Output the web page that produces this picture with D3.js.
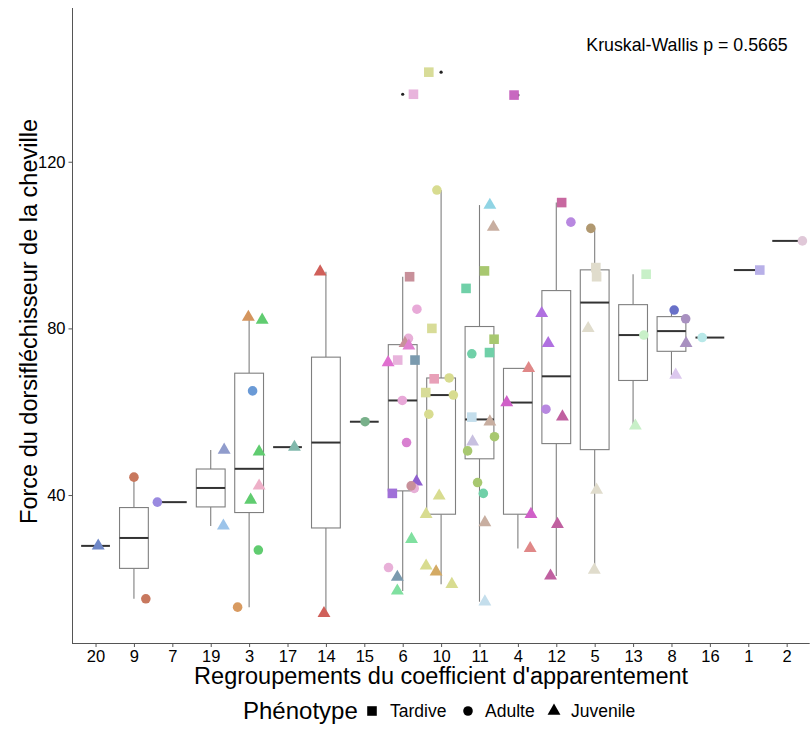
<!DOCTYPE html>
<html>
<head>
<meta charset="utf-8">
<script src="https://cdn.jsdelivr.net/npm/d3@7"></script>
<style>
  html, body { margin: 0; padding: 0; background: #fff; }
  svg { display: block; font-family: "Liberation Sans", Arial, sans-serif; }
</style>
</head>
<body>
<div id="chart"></div>
<script>
// ---------------- DATA ----------------
const categories = ["20","9","7","19","3","17","14","15","6","10","11","4","12","5","13","8","16","1","2"];
const yTicks = [40, 80, 120];
const phenotypes = ["Tardive", "Adulte", "Juvenile"];
const pValueLabel = "Kruskal-Wallis p = 0.5665";

// one entry per animal: group, force value, phenotype, horizontal jitter (fraction of a band), colour of the individual
const pointGroup = [
  "20",
  "9","9",
  "7",
  "19","19",
  "3","3","3","3","3","3","3","3",
  "17",
  "14","14",
  "15",
  "6","6","6","6","6","6","6","6","6","6","6","6","6","6","6","6","6","6","6",
  "10","10","10","10","10","10","10","10","10","10","10","10","10",
  "11","11","11","11","11","11","11","11","11","11","11","11","11","11","11","11",
  "4","4","4","4","4",
  "12","12","12","12","12","12","12","12",
  "5","5","5","5","5","5",
  "13","13","13",
  "8","8","8","8",
  "16",
  "1",
  "2"
];
const pointValue = [
  27.8,
  44.3, 15.1,
  38.3,
  50.8, 32.6,
  82.7, 82.0, 65.0, 50.4, 42.2, 38.8, 26.8, 13.1,
  51.5,
  93.6, 11.6,
  57.6,
  136.2, 92.4, 84.6, 77.6, 76.4, 75.8, 71.8, 72.4, 72.4, 62.7, 52.6, 43.2, 41.6, 42.2, 40.4, 29.4, 22.6, 20.3, 17.0,
  141.5, 113.2, 80.0, 67.9, 68.1, 64.6, 64.0, 59.4, 39.8, 35.4, 23.0, 21.6, 18.6,
  109.6, 104.3, 93.8, 89.6, 77.4, 73.9, 74.2, 58.7, 57.6, 52.8, 54.0, 50.6, 43.0, 40.4, 33.4, 14.4,
  136.0, 70.4, 62.2, 35.4, 27.2,
  110.2, 105.5, 83.6, 76.4, 60.6, 58.8, 33.0, 20.6,
  104.0, 94.6, 92.4, 80.0, 41.2, 22.0,
  93.0, 78.4, 56.6,
  84.4, 82.3, 76.4, 68.8,
  77.8,
  94.0,
  101.0
];
const pointPhenotype = [
  "Juvenile",
  "Adulte","Adulte",
  "Adulte",
  "Juvenile","Juvenile",
  "Juvenile","Juvenile","Adulte","Juvenile","Juvenile","Juvenile","Adulte","Adulte",
  "Juvenile",
  "Juvenile","Juvenile",
  "Adulte",
  "Tardive","Tardive","Adulte","Adulte","Juvenile","Juvenile","Juvenile","Tardive","Tardive","Adulte","Adulte","Juvenile","Adulte","Adulte","Tardive","Juvenile","Adulte","Juvenile","Juvenile",
  "Tardive","Adulte","Tardive","Tardive","Adulte","Tardive","Adulte","Adulte","Juvenile","Juvenile","Juvenile","Juvenile","Juvenile",
  "Juvenile","Juvenile","Tardive","Tardive","Tardive","Adulte","Tardive","Tardive","Juvenile","Juvenile","Adulte","Adulte","Adulte","Adulte","Juvenile","Juvenile",
  "Tardive","Juvenile","Juvenile","Juvenile","Juvenile",
  "Tardive","Adulte","Juvenile","Juvenile","Adulte","Juvenile","Juvenile","Juvenile",
  "Adulte","Tardive","Tardive","Juvenile","Juvenile","Juvenile",
  "Tardive","Adulte","Juvenile",
  "Adulte","Adulte","Juvenile","Juvenile",
  "Adulte",
  "Tardive",
  "Adulte"
];
const pointJitter = [
  0.07,
  0.00, 0.31,
  -0.39,
  0.35, 0.33,
  -0.02, 0.34, 0.09, 0.26, 0.26, 0.04, 0.24, -0.30,
  0.18,
  -0.15, -0.05,
  0.02,
  0.28, 0.18, 0.37, 0.15, 0.06, 0.16, -0.38, -0.13, 0.32, -0.01, 0.10, 0.36, 0.30, 0.22, -0.27, 0.23, -0.37, -0.14, -0.14,
  -0.32, -0.11, -0.24, -0.18, 0.21, -0.40, 0.32, -0.32, -0.05, -0.39, -0.39, -0.13, 0.28,
  0.27, 0.36, 0.13, -0.35, 0.38, -0.20, 0.26, -0.20, 0.27, -0.18, 0.39, -0.31, -0.05, 0.10, 0.14, 0.14,
  -0.10, 0.28, -0.29, 0.34, 0.32,
  0.14, 0.38, -0.38, -0.21, -0.27, 0.16, 0.03, -0.15,
  -0.10, 0.03, 0.05, -0.17, 0.05, -0.01,
  0.34, 0.28, 0.06,
  0.07, 0.37, 0.38, 0.11,
  -0.20,
  0.30,
  0.41
];
const pointColor = [
  "#7088c8",
  "#c8785e","#c8785e",
  "#9a8ae0",
  "#909ccc","#9cc4ea",
  "#d4955e","#60cc70","#6a9ad6","#60cc70","#eeb0c8","#60cc70","#60cc70","#d89a60",
  "#80b8ac",
  "#d0605a","#d0605a",
  "#78b08a",
  "#e8b4dc","#c8909a","#e8aad8","#e8b0d8","#c8909a","#e080d0","#e070d0","#e8b4dc","#7a9aae","#e8a8d8","#d880d0","#9060d0","#e8b0d8","#c8909a","#a070d8","#80e0a0","#e8b0d8","#7a9aae","#80e0a0",
  "#d8dc98","#d8dc90","#d8dc98","#e8a0b8","#d8dc90","#d8dc98","#d8dc90","#d8dc90","#d8dc90","#d8dc90","#d8dc90","#d4aa64","#d8dc90",
  "#90d4e4","#c8aea0","#a8c870","#70d0a8","#a8c870","#70d0a8","#70d0a8","#c4deec","#c8aea0","#c8c0e0","#a8c870","#a8c870","#a8c870","#70d0a8","#c8aea0","#c4deec",
  "#c868c0","#e08888","#d060c8","#d060c8","#e08888",
  "#c868a0","#b888e0","#b070e0","#b070e0","#b888e0","#c060a0","#c060a0","#c060a0",
  "#b09870","#e0dccc","#e0dccc","#e0dccc","#e0dccc","#e0dccc",
  "#c8f0c8","#c8f0c8","#c8f0c8",
  "#6870c8","#a890c0","#a890c0","#dcc8ee",
  "#b8e8e8",
  "#b8b0e8",
  "#e0c8d8"
];

// ---------------- LAYOUT ----------------
const W = 810, H = 732;
const panel = { left: 72.5, right: 809.7, top: 8, bottom: 643 };

const svg = d3.select("#chart").append("svg").attr("width", W).attr("height", H);
svg.append("rect").attr("width", W).attr("height", H).attr("fill", "#fff");

const x = d3.scalePoint().domain(categories).range([panel.left, panel.right]).padding(0.6);
const y = d3.scaleLinear().domain([4.49, 156.9]).range([panel.bottom, panel.top]);
const step = x.step();
const boxW = step * 0.75;

const points = pointValue.map((v, i) => ({
  group: pointGroup[i], value: v, phenotype: pointPhenotype[i], jitter: pointJitter[i], color: pointColor[i]
}));

const shapeOf = { "Tardive": d3.symbolSquare, "Adulte": d3.symbolCircle, "Juvenile": d3.symbolTriangle };
const sizeOf = { "Tardive": 92, "Adulte": 72, "Juvenile": 72 };

// ---------------- BOXPLOTS ----------------
const boxLayer = svg.append("g");
categories.forEach(cat => {
  const vals = points.filter(p => p.group === cat).map(p => p.value).sort(d3.ascending);
  const q1 = d3.quantile(vals, 0.25), med = d3.quantile(vals, 0.5), q3 = d3.quantile(vals, 0.75);
  const iqr = q3 - q1;
  const lo = d3.min(vals.filter(v => v >= q1 - 1.5 * iqr));
  const hi = d3.max(vals.filter(v => v <= q3 + 1.5 * iqr));
  const cx = x(cat);
  const g = boxLayer.append("g");
  g.append("line").attr("x1", cx).attr("x2", cx).attr("y1", y(q3)).attr("y2", y(hi))
    .attr("stroke", "#7f7f7f").attr("stroke-width", 1.1);
  g.append("line").attr("x1", cx).attr("x2", cx).attr("y1", y(q1)).attr("y2", y(lo))
    .attr("stroke", "#7f7f7f").attr("stroke-width", 1.1);
  g.append("rect").attr("x", cx - boxW / 2).attr("y", y(q3)).attr("width", boxW)
    .attr("height", Math.max(0, y(q1) - y(q3)))
    .attr("fill", "#fff").attr("stroke", "#7f7f7f").attr("stroke-width", 1.1);
  g.append("line").attr("x1", cx - boxW / 2).attr("x2", cx + boxW / 2).attr("y1", y(med)).attr("y2", y(med))
    .attr("stroke", "#333").attr("stroke-width", 2);
  vals.filter(v => v < lo || v > hi).forEach(v => {
    g.append("circle").attr("cx", cx).attr("cy", y(v)).attr("r", 1.6).attr("fill", "#222");
  });
});

// ---------------- JITTERED POINTS ----------------
svg.append("g").selectAll("path").data(points).join("path")
  .attr("transform", d => `translate(${x(d.group) + d.jitter * step},${y(d.value)})`)
  .attr("d", d => d3.symbol().type(shapeOf[d.phenotype]).size(sizeOf[d.phenotype])())
  .attr("fill", d => d.color);

// ---------------- AXES ----------------
const axisColor = "#555";
const xAxis = svg.append("g").attr("transform", `translate(0,${panel.bottom})`)
  .call(d3.axisBottom(x).tickSize(4).tickPadding(3).tickSizeOuter(0));
xAxis.select(".domain").remove();
xAxis.append("line").attr("x1", panel.left).attr("x2", panel.right).attr("y1", 0.5).attr("y2", 0.5)
  .attr("stroke", axisColor).attr("stroke-width", 1);
xAxis.selectAll(".tick line").attr("stroke", axisColor);
xAxis.selectAll(".tick text").attr("fill", "#000").attr("font-size", 16.5)
  .attr("font-family", "Liberation Sans, Arial, sans-serif");

const yAxis = svg.append("g").attr("transform", `translate(${panel.left},0)`)
  .call(d3.axisLeft(y).tickValues(yTicks).tickSize(4).tickPadding(3).tickSizeOuter(0));
yAxis.select(".domain").remove();
yAxis.append("line").attr("x1", 0).attr("x2", 0).attr("y1", panel.top).attr("y2", panel.bottom + 1)
  .attr("stroke", axisColor).attr("stroke-width", 1);
yAxis.selectAll(".tick line").attr("stroke", axisColor);
yAxis.selectAll(".tick text").attr("fill", "#000").attr("font-size", 16.5)
  .attr("font-family", "Liberation Sans, Arial, sans-serif");

// ---------------- TITLES ----------------
svg.append("text")
  .attr("x", (panel.left + panel.right) / 2).attr("y", 684)
  .attr("text-anchor", "middle").attr("font-size", 23.5).attr("fill", "#000")
  .text("Regroupements du coefficient d'apparentement");

svg.append("text")
  .attr("transform", `translate(37,${(panel.top + panel.bottom) / 2 - 4}) rotate(-90)`)
  .attr("text-anchor", "middle").attr("font-size", 23.5).attr("fill", "#000")
  .text("Force du dorsifléchisseur de la cheville");

svg.append("text")
  .attr("x", 687).attr("y", 51)
  .attr("text-anchor", "middle").attr("font-size", 17.8).attr("fill", "#000")
  .text(pValueLabel);

// ---------------- LEGEND ----------------
const legend = svg.append("g");
legend.append("text").attr("x", 243).attr("y", 719).attr("font-size", 24).attr("fill", "#000").text("Phénotype");
const legX = [372, 468, 554];
const legTX = [390, 485, 571];
phenotypes.forEach((p, i) => {
  legend.append("path")
    .attr("transform", `translate(${legX[i]},${711})`)
    .attr("d", d3.symbol().type(shapeOf[p]).size(sizeOf[p])())
    .attr("fill", "#000");
  legend.append("text").attr("x", legTX[i]).attr("y", 717).attr("font-size", 17.5).attr("fill", "#000").text(p);
});
</script>
</body>
</html>
